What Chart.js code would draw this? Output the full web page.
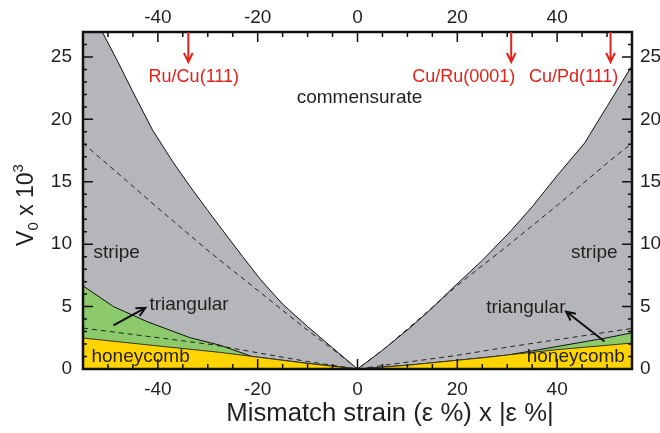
<!DOCTYPE html>
<html>
<head>
<meta charset="utf-8">
<script src="https://cdn.jsdelivr.net/npm/chart.js@4.4.1/dist/chart.umd.min.js"></script>
<style>
  body { margin: 0; background: #fff; }
  canvas { display: block; }
</style>
</head>
<body>
<canvas id="fase" width="660" height="433"></canvas>
<script>
// strain axis ticks (x = eps*|eps|) and V0 ticks
var ticksX = [-40, -20, 0, 20, 40];
var ticksY = [0, 5, 10, 15, 20, 25];

// stripe / commensurate boundary (solid)
var limiteX = [-55, -51, -48, -45, -41, -37, -33.5, -30, -27, -23, -19.5, -15, -10, -5, 0,
               5, 10.5, 15, 19.1, 25, 30.8, 35, 39.8, 45.5, 50.1, 55];
var limiteY = [29.9, 26.9, 24.6, 22.2, 19.1, 16.6, 14.6, 12.7, 11.1, 9.0, 7.2, 5.2, 3.4, 1.7, 0,
               1.5, 3.3, 4.9, 6.5, 8.7, 11.1, 13.0, 15.4, 18.1, 21.1, 24.3];

// upper dashed line
var trazoAltoX = [-55, -40, -30, -20, -10, -5, 0, 5, 10, 20, 30, 40, 50, 55];
var trazoAltoY = [18.1, 12.9, 9.5, 6.3, 3.1, 1.6, 0, 1.5, 3.2, 6.7, 9.85, 13.1, 16.5, 18.1];

// triangular phase top (solid)
var triangularX = [-55, -48.9, -42.2, -33.5, -27.5, -21, -20, -10, 0, 10, 20, 26.5, 30, 35, 40, 45, 50, 55];
var triangularY = [6.66, 5.0, 3.8, 2.5, 1.9, 0.98, 0.95, 0.45, 0, 0.3, 0.7, 0.96, 1.12, 1.45, 1.8, 2.15, 2.5, 2.9];

// lower dashed line
var trazoBajoX = [-55, -40, -28.9, -20, -10, 0, 10, 20, 30, 40, 50, 55];
var trazoBajoY = [3.28, 2.51, 1.94, 1.3, 0.6, 0, 0.55, 1.1, 1.75, 2.35, 2.95, 3.25];

// honeycomb phase top
var panalX = [-55, -40, -27.5, -20, -10, 0, 10, 20, 26.5, 30, 40, 50, 55];
var panalY = [2.48, 1.85, 1.33, 0.95, 0.45, 0, 0.3, 0.7, 0.96, 1.12, 1.55, 1.9, 2.08];

// experimental systems marked with red arrows
var sistemas = ["Ru/Cu(111)", "Cu/Ru(0001)", "Cu/Pd(111)"];
var sistemasX = [-33.9, 30.8, 50.7];
var sistemasTextoX = [-32.8, 21.3, 43.3];

function puntos(xs, ys) {
    var out = [];
    for (var i = 0; i < xs.length; i++) out.push({ x: xs[i], y: ys[i] });
    return out;
}

var fuente = "'Liberation Sans', Arial, Helvetica, sans-serif";
var colorTexto = "#231f20";

// inward ticks, frame, labels, arrows and axis titles
var decoracion = {
    id: "decoracion",
    afterDraw: function (chart) {
        var ctx = chart.ctx;
        var a = chart.chartArea;
        var sx = chart.scales.x;
        var sy = chart.scales.y;

        ctx.save();
        ctx.setLineDash([]);
        ctx.strokeStyle = "#111111";
        ctx.lineWidth = 1.5;
        ctx.beginPath();
        for (var v = -50; v <= 50; v += 5) {
            var px = sx.getPixelForValue(v);
            var len = v % 20 === 0 ? 10 : 5;
            ctx.moveTo(px, a.bottom);
            ctx.lineTo(px, a.bottom - len);
            ctx.moveTo(px, a.top);
            ctx.lineTo(px, a.top + len);
        }
        for (var w = 1; w <= 26; w++) {
            var py = sy.getPixelForValue(w);
            var l2 = w % 5 === 0 ? 10 : 4;
            ctx.moveTo(a.left, py);
            ctx.lineTo(a.left + l2, py);
            ctx.moveTo(a.right, py);
            ctx.lineTo(a.right - l2, py);
        }
        ctx.stroke();

        // plot frame
        ctx.lineWidth = 2.5;
        ctx.strokeRect(a.left, a.top, a.right - a.left, a.bottom - a.top);

        // phase names
        ctx.fillStyle = colorTexto;
        ctx.font = "19px " + fuente;
        ctx.textBaseline = "alphabetic";
        var etiquetas = [
            ["commensurate", 0.4, 21.3, "center"],
            ["stripe", -52.9, 8.93, "left"],
            ["stripe", 52.1, 8.9, "right"],
            ["triangular", -41.7, 4.69, "left"],
            ["triangular", 25.8, 4.48, "left"],
            ["honeycomb", -53.3, 0.53, "left"],
            ["honeycomb", 33.9, 0.56, "left"]
        ];
        etiquetas.forEach(function (e) {
            ctx.textAlign = e[3];
            ctx.fillText(e[0], sx.getPixelForValue(e[1]), sy.getPixelForValue(e[2]));
        });

        function flecha(x0, y0, x1, y1, color, ancho) {
            var p0x = sx.getPixelForValue(x0), p0y = sy.getPixelForValue(y0);
            var p1x = sx.getPixelForValue(x1), p1y = sy.getPixelForValue(y1);
            var ang = Math.atan2(p1y - p0y, p1x - p0x);
            var cab = 10;
            ctx.strokeStyle = color;
            ctx.lineWidth = ancho;
            ctx.beginPath();
            ctx.moveTo(p0x, p0y);
            ctx.lineTo(p1x, p1y);
            ctx.moveTo(p1x - cab * Math.cos(ang - 0.45), p1y - cab * Math.sin(ang - 0.45));
            ctx.lineTo(p1x, p1y);
            ctx.lineTo(p1x - cab * Math.cos(ang + 0.45), p1y - cab * Math.sin(ang + 0.45));
            ctx.stroke();
        }
        // black arrows to the thin triangular wedges
        flecha(-48.9, 3.5, -42.5, 4.9, "#111", 2);
        flecha(49.5, 2.2, 41.8, 4.6, "#111", 2);

        // red markers for the experimental systems
        ctx.font = "18px " + fuente;
        ctx.fillStyle = "#e2231a";
        ctx.textAlign = "center";
        for (var k = 0; k < sistemas.length; k++) {
            flecha(sistemasX[k], 27, sistemasX[k], 24.6, "#e2231a", 2);
            ctx.fillText(sistemas[k], sx.getPixelForValue(sistemasTextoX[k]), sy.getPixelForValue(23.0));
        }

        // x axis title
        ctx.fillStyle = colorTexto;
        ctx.font = "25.7px " + fuente;
        ctx.textAlign = "center";
        ctx.fillText("Mismatch strain (\u03b5 %) x |\u03b5 %|", 390, 421);

        // y axis title: V0 x 10^3
        var grande = "23px " + fuente, chico = "15px " + fuente;
        var partes = [["V", grande, 0], ["0", chico, 5], [" x 10", grande, 0], ["3", chico, -10]];
        var total = 0;
        partes.forEach(function (p) { ctx.font = p[1]; total += ctx.measureText(p[0]).width; });
        ctx.translate(33, 205);
        ctx.rotate(-Math.PI / 2);
        ctx.textAlign = "left";
        var cx = -total / 2;
        partes.forEach(function (p) {
            ctx.font = p[1];
            ctx.fillText(p[0], cx, p[2]);
            cx += ctx.measureText(p[0]).width;
        });
        ctx.restore();
    }
};

function ejeX(pos, alto, relleno) {
    return {
        type: "linear",
        position: pos,
        min: -55,
        max: 55,
        afterFit: function (s) { s.height = alto; },
        afterBuildTicks: function (s) { s.ticks = ticksX.map(function (v) { return { value: v }; }); },
        grid: { display: true, drawOnChartArea: false, drawTicks: false },
        border: { display: false },
        ticks: { padding: relleno, color: colorTexto, font: { family: fuente, size: 19 } }
    };
}

function ejeY(pos, ancho, relleno) {
    return {
        type: "linear",
        position: pos,
        min: 0,
        max: 27,
        afterFit: function (s) { s.width = ancho; },
        afterBuildTicks: function (s) { s.ticks = ticksY.map(function (v) { return { value: v }; }); },
        grid: { display: true, drawOnChartArea: false, drawTicks: false },
        border: { display: false },
        ticks: { padding: relleno, color: colorTexto, font: { family: fuente, size: 19 } }
    };
}

var linea = { pointRadius: 0, tension: 0, xAxisID: "x", yAxisID: "y" };

new Chart(document.getElementById("fase"), {
    type: "line",
    data: {
        datasets: [
            Object.assign({}, linea, {
                label: "dashed upper",
                data: puntos(trazoAltoX, trazoAltoY),
                borderColor: "#222", borderWidth: 1, borderDash: [5, 4], fill: false, order: 0
            }),
            Object.assign({}, linea, {
                label: "dashed lower",
                data: puntos(trazoBajoX, trazoBajoY),
                borderColor: "#222", borderWidth: 1, borderDash: [5, 4], fill: false, order: 0
            }),
            Object.assign({}, linea, {
                label: "honeycomb",
                data: puntos(panalX, panalY),
                borderColor: "#3a3520", borderWidth: 1, backgroundColor: "#ffd400", fill: "origin", order: 1
            }),
            Object.assign({}, linea, {
                label: "triangular",
                data: puntos(triangularX, triangularY),
                borderColor: "#111", borderWidth: 1, backgroundColor: "#8dca6c", fill: "origin", order: 2
            }),
            Object.assign({}, linea, {
                label: "stripe",
                data: puntos(limiteX, limiteY),
                borderColor: "#111", borderWidth: 1, backgroundColor: "#b5b6b9", fill: "origin", order: 3
            })
        ]
    },
    options: {
        responsive: false,
        animation: false,
        layout: { padding: 0 },
        plugins: { legend: { display: false }, tooltip: { enabled: false } },
        scales: {
            x: ejeX("bottom", 64, 9),
            x2: ejeX("top", 32, 3),
            y: ejeY("left", 83, 11),
            y2: ejeY("right", 28, 8)
        }
    },
    plugins: [decoracion]
});
</script>
</body>
</html>
